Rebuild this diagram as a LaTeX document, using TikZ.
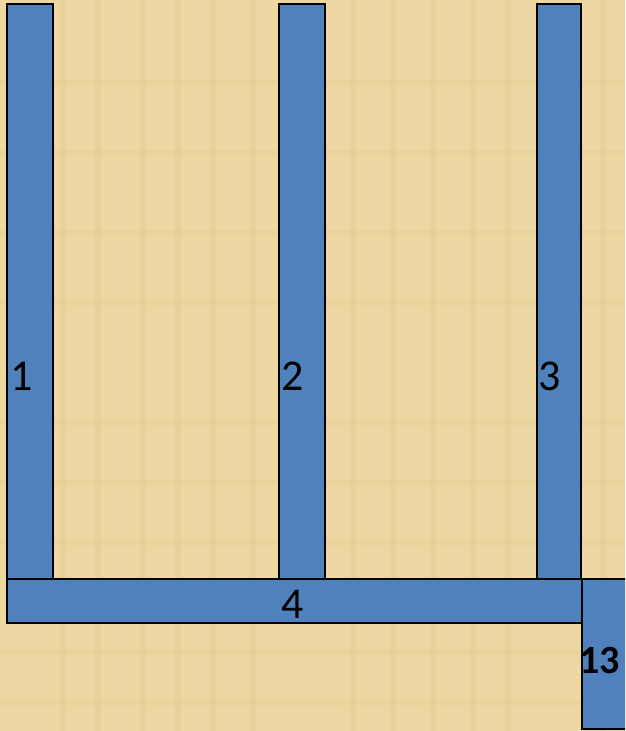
\documentclass[tikz,border=0pt]{standalone}
\usepackage{fontspec}
\setmainfont{Carlito}
\definecolor{papyrus}{RGB}{237,215,162}
\definecolor{papyrusdark}{RGB}{226,200,140}
\definecolor{barblue}{RGB}{79,129,189}
\begin{document}
\begin{tikzpicture}[x=1pt,y=-1pt,
  bar/.style={draw=black,line width=1.5pt,fill=barblue,inner sep=0pt},
  lbl/.style={font=\fontsize{44}{44}\selectfont,inner sep=0pt,text=black},
  lblb/.style={font=\bfseries\fontsize{40}{40}\selectfont,inner sep=0pt,text=black}]
\fill[papyrus] (0,0) rectangle (625,731);
\useasboundingbox (0,0) rectangle (625,731);
\clip (0,0) rectangle (625,731);
% faint texture streaks
\foreach \x in {60,95,140,175,210,250,350,390,430,470,505,600}
  \fill[papyrusdark,opacity=0.35] (\x,0) rectangle (\x+6,731);
\foreach \y in {80,150,230,300,420,480,540,650,700}
  \fill[papyrusdark,opacity=0.3] (0,\y) rectangle (625,\y+5);
% bars
\node[bar,minimum width=46pt,minimum height=575pt,anchor=north west] (bar1) at (6,3) {};
\node[bar,minimum width=46pt,minimum height=575pt,anchor=north west] (bar2) at (278,3) {};
\node[bar,minimum width=44pt,minimum height=575pt,anchor=north west] (bar3) at (536,3) {};
\node[bar,minimum width=575pt,minimum height=44pt,anchor=north west] (bar4) at (6,578) {};
\node[bar,minimum width=60pt,minimum height=150pt,anchor=north west] (bar13) at (581,578) {};
% labels
\node[lbl,anchor=base west] (l1) at (10,390) {1};
\node[lbl,anchor=base west] (l2) at (281,390) {2};
\node[lbl,anchor=base west] (l3) at (538,390) {3};
\node[lbl,anchor=base] (l4) at (293,618) {4};
\node[lblb,anchor=base west] (l13) at (579,673) {13};
\end{tikzpicture}
\end{document}
